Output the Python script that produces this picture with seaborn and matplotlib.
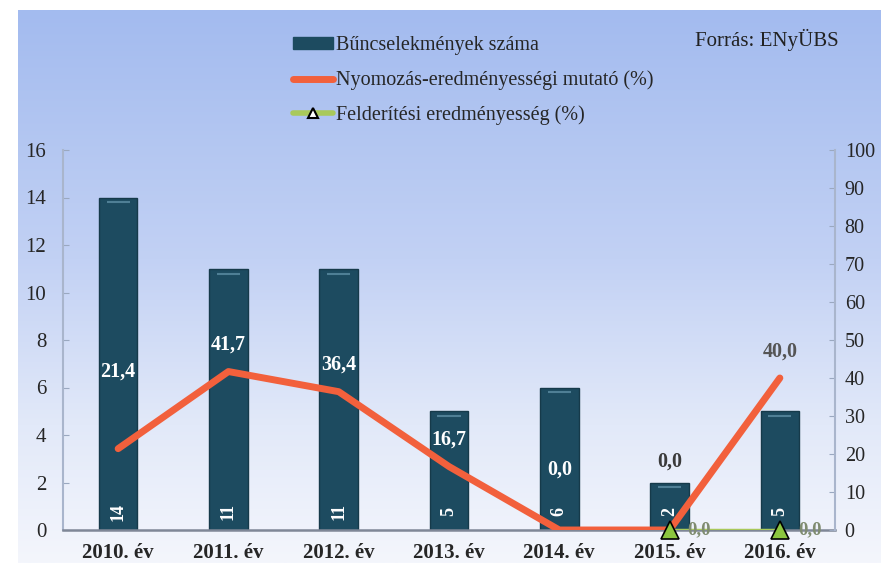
import numpy as np
import pandas as pd
import matplotlib
matplotlib.use("Agg")
import matplotlib.pyplot as plt
from matplotlib.colors import LinearSegmentedColormap
from matplotlib.patches import Patch
from matplotlib.lines import Line2D
import seaborn as sns

# ---- data ----
years = ["2010. év", "2011. év", "2012. év", "2013. év", "2014. év", "2015. év", "2016. év"]
counts = [14, 11, 11, 5, 6, 2, 5]
nyomozas = [21.4, 41.7, 36.4, 16.7, 0.0, 0.0, 40.0]
felderites = [np.nan, np.nan, np.nan, np.nan, np.nan, 0.0, 0.0]
series_names = ["Bűncselekmények száma", "Nyomozás-eredményességi mutató (%)", "Felderítési eredményesség (%)"]
source_text = "Forrás: ENyÜBS"

# label styling (pixel offsets above the line point, colours)
nyom_label_offsets = [77, 27, 27, 27, 60, 68, 26]
nyom_label_colors = ["white"] * 5 + ["#3a3a3a", "#555555"]

sns.set_style("white")
plt.rcParams["font.family"] = ["Liberation Serif", "DejaVu Serif"]

BAR_C = "#1d4b60"
RED_C = "#f2603c"
GREEN_C = "#a9c95a"
TRI_C = "#8cc63f"

fig = plt.figure(figsize=(8.81, 5.69), dpi=100)
fig.patch.set_facecolor("white")

# gradient background
bg = fig.add_axes([0, 0, 1, 1], zorder=-5)
cmap = LinearSegmentedColormap.from_list(
    "bg", [(0.0, "#f4f6fc"), (0.25, "#e2e9f9"), (0.55, "#c2d1f4"), (1.0, "#a3bbef")])
grad = np.linspace(0, 1, 256).reshape(-1, 1)
bg.imshow(grad, cmap=cmap, aspect="auto", origin="lower",
          extent=[18 / 881, 1, 6 / 569, 1 - 10 / 569])
bg.set_xlim(0, 1)
bg.set_ylim(0, 1)
bg.axis("off")

ax = fig.add_axes([63 / 881, 1 - 530 / 569, (835 - 63) / 881, 380 / 569])
ax.set_facecolor("none")

df = pd.DataFrame({"year": years, "count": counts})
sns.barplot(data=df, x="year", y="count", ax=ax, color=BAR_C, width=0.35,
            saturation=1, edgecolor="#163a4a", linewidth=1)
ax.set_xlim(-0.5, 6.5)
ax.set_ylim(0, 16)
ax.set_yticks(range(0, 17, 2))
ax.set_xlabel("")
ax.set_ylabel("")
ax.tick_params(axis="y", labelsize=15, length=4, color="#9aa8c0", pad=12, direction="in")
ax.tick_params(axis="x", labelsize=15, length=0, pad=9)
for lbl in ax.get_xticklabels():
    lbl.set_fontweight("bold")
for s in ["top", "right"]:
    ax.spines[s].set_visible(False)
ax.spines["left"].set_color("#a9b5cc")
ax.spines["left"].set_linewidth(1.5)
ax.spines["bottom"].set_color("#7f8797")
ax.spines["bottom"].set_linewidth(1.8)

# subtle highlight line near the top of each bar
for p in ax.patches:
    bx, bw, bh = p.get_x(), p.get_width(), p.get_height()
    ax.plot([bx + bw * 0.2, bx + bw * 0.8], [bh - 0.2, bh - 0.2], color="#4f7f95",
            linewidth=1.5, solid_capstyle="butt")

# bar value labels (rotated, white, near the bottom)
for i, c in enumerate(counts):
    ax.annotate(str(c), (i, 0), xytext=(0, 18), textcoords="offset pixels",
                rotation=90, ha="center", va="center", color="white",
                fontsize=13, fontweight="bold")

ax2 = ax.twinx()
ax2.set_facecolor("none")
x = np.arange(len(years))
sns.lineplot(x=x, y=nyomozas, ax=ax2, color=RED_C, linewidth=5, legend=False)
sns.lineplot(x=x, y=felderites, ax=ax2, color=GREEN_C, linewidth=2.5, legend=False)
ax2.plot(x, felderites, linestyle="none", marker="^", markersize=13,
         markerfacecolor=TRI_C, markeredgecolor="black", markeredgewidth=1.2,
         clip_on=False, zorder=5)
ax2.set_ylim(0, 100)
ax2.set_xlim(-0.5, 6.5)
ax2.set_yticks(range(0, 101, 10))
ax2.set_ylabel("")
ax2.tick_params(axis="y", labelsize=14.5, length=4, color="#9aa8c0", pad=7, direction="in")
for s in ["top", "left", "bottom"]:
    ax2.spines[s].set_visible(False)
ax2.spines["right"].set_color("#a9b5cc")
ax2.spines["right"].set_linewidth(1.5)

for i, v in enumerate(nyomozas):
    ax2.annotate(f"{v:.1f}".replace(".", ","), (i, v), xytext=(0, nyom_label_offsets[i]),
                 textcoords="offset pixels", ha="center", va="center",
                 color=nyom_label_colors[i], fontsize=14.5, fontweight="bold")
for i, v in enumerate(felderites):
    if not np.isnan(v):
        ax2.annotate(f"{v:.1f}".replace(".", ","), (i, v), xytext=(18, 0),
                     textcoords="offset pixels", ha="left", va="center",
                     color="#7f8c70", fontsize=13.5, fontweight="bold")

handles = [
    Patch(facecolor=BAR_C, edgecolor=BAR_C),
    Line2D([], [], color=RED_C, linewidth=5),
    Line2D([], [], color=GREEN_C, linewidth=4, marker="^", markersize=7,
           markerfacecolor="white", markeredgecolor="black", markeredgewidth=1.5),
]
leg = fig.legend(handles, series_names, loc="upper left", bbox_to_anchor=(275 / 881, 1 - 18 / 569),
                 frameon=False, fontsize=14.5, handlelength=2.0, handleheight=0.5,
                 labelspacing=0.75, handletextpad=0.15)

fig.text(695 / 881, 1 - 40 / 569, source_text, fontsize=15, ha="left", va="center", color="#222222")

fig.savefig("out.png", dpi=100)
